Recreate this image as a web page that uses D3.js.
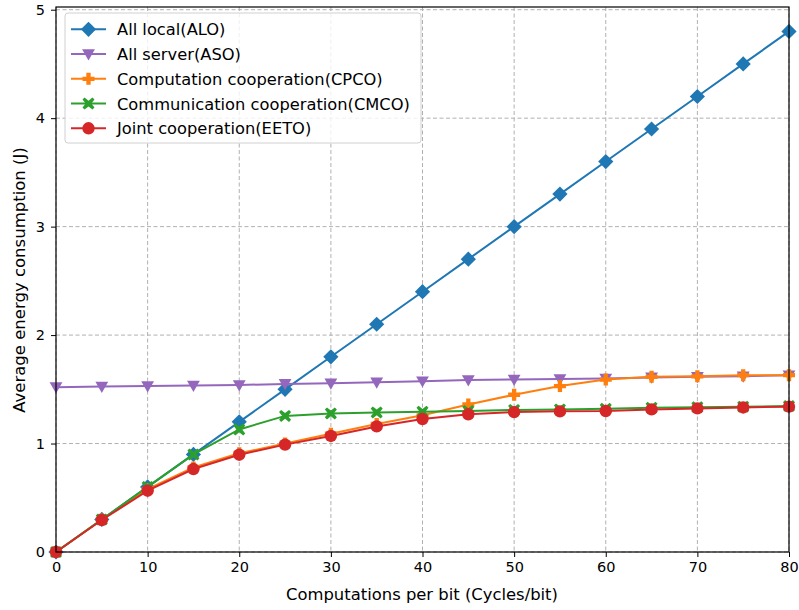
<!DOCTYPE html>
<html><head><meta charset="utf-8">
<script src="https://cdn.jsdelivr.net/npm/d3@7/dist/d3.min.js"></script>
<style>body{margin:0;background:#fff}svg{display:block}text{font-family:"DejaVu Sans",sans-serif}</style>
</head><body>
<svg id="c" width="799" height="610"></svg>
<script>
const xValues = [0,5,10,15,20,25,30,35,40,45,50,55,60,65,70,75,80];
const aloValues  = [0,0.3,0.6,0.9,1.2,1.5,1.8,2.1,2.4,2.7,3.0,3.3,3.6,3.9,4.2,4.5,4.8];
const asoValues  = [1.52,1.525,1.53,1.535,1.54,1.55,1.555,1.565,1.575,1.585,1.59,1.595,1.60,1.61,1.615,1.62,1.63];
const cpcoValues = [0,0.3,0.58,0.78,0.91,1.0,1.09,1.18,1.26,1.36,1.45,1.53,1.59,1.615,1.62,1.63,1.63];
const cmcoValues = [0,0.3,0.6,0.9,1.13,1.255,1.278,1.287,1.293,1.30,1.31,1.315,1.32,1.33,1.335,1.34,1.345];
const eetoValues = [0,0.295,0.565,0.765,0.897,0.99,1.07,1.158,1.226,1.27,1.29,1.297,1.30,1.315,1.324,1.333,1.34];
const xTicks = [0,10,20,30,40,50,60,70,80];
const yTicks = [0,1,2,3,4,5];
const seriesNames = ["All local(ALO)","All server(ASO)","Computation cooperation(CPCO)","Communication cooperation(CMCO)","Joint cooperation(EETO)"];
const seriesColors = ["#1f77b4","#9467bd","#ff7f0e","#2ca02c","#d62728"];
const seriesMarkers = ["diamond","triDown","plus","cross","circle"];
const seriesData = [aloValues, asoValues, cpcoValues, cmcoValues, eetoValues];

const svg = d3.select("#c");
const L=56, R=789, T=7, B=552;
const x = d3.scaleLinear().domain([0,80]).range([L,R]);
const y = d3.scaleLinear().domain([0,5.025]).range([B,T]);

const g = svg.append("g");
g.selectAll(".gx").data(xTicks).enter().append("line")
  .attr("x1",d=>x(d)).attr("x2",d=>x(d)).attr("y1",T).attr("y2",B)
  .attr("stroke","#b0b0b0").attr("stroke-width",1).attr("stroke-dasharray","4,2.5");
g.selectAll(".gy").data(yTicks).enter().append("line")
  .attr("x1",L).attr("x2",R).attr("y1",d=>y(d)).attr("y2",d=>y(d))
  .attr("stroke","#b0b0b0").attr("stroke-width",1).attr("stroke-dasharray","4,2.5");

const xAxis = d3.axisBottom(x).tickValues(xTicks).tickSize(5).tickPadding(5).tickFormat(d3.format("d"));
const yAxis = d3.axisLeft(y).tickValues(yTicks).tickSize(5).tickPadding(6).tickFormat(d3.format("d"));
const ax = svg.append("g").attr("transform",`translate(0,${B})`).call(xAxis);
const ay = svg.append("g").attr("transform",`translate(${L},0)`).call(yAxis);
[ax,ay].forEach(a=>{
  a.select(".domain").remove();
  a.selectAll("text").attr("font-size",14.5).attr("fill","#000").style("font-family","DejaVu Sans");
  a.selectAll("line").attr("stroke","#000");
});

function markerPath(type, s){
  const p = d3.path();
  if(type==="diamond"){ const r=s; p.moveTo(0,-r);p.lineTo(r,0);p.lineTo(0,r);p.lineTo(-r,0);p.closePath(); }
  else if(type==="triDown"){ const r=s; p.moveTo(-r,-r*0.75);p.lineTo(r,-r*0.75);p.lineTo(0,r);p.closePath(); }
  else if(type==="plus"){ const a=s,b=s*0.36; p.moveTo(-b,-a);p.lineTo(b,-a);p.lineTo(b,-b);p.lineTo(a,-b);p.lineTo(a,b);p.lineTo(b,b);p.lineTo(b,a);p.lineTo(-b,a);p.lineTo(-b,b);p.lineTo(-a,b);p.lineTo(-a,-b);p.lineTo(-b,-b);p.closePath(); }
  else if(type==="cross"){
    const a=s, b=s*0.34;
    const c=[[0,-b*1.4],[a-b,-a],[a,-a+b],[b*1.4,0],[a,a-b],[a-b,a],[0,b*1.4],[-a+b,a],[-a,a-b],[-b*1.4,0],[-a,-a+b],[-a+b,-a]];
    p.moveTo(c[0][0],c[0][1]); c.slice(1).forEach(q=>p.lineTo(q[0],q[1])); p.closePath();
  }
  else { p.arc(0,0,s,0,Math.PI*2); }
  return p.toString();
}
const markerSizes = [7.6,6.4,6,6,6.2];

const plot = svg.append("g");
const line = d3.line().x((d,i)=>x(xValues[i])).y(d=>y(d));
seriesData.forEach((vals,k)=>{
  plot.append("path").datum(vals).attr("d",line).attr("fill","none")
    .attr("stroke",seriesColors[k]).attr("stroke-width",2);
  plot.selectAll(".m"+k).data(vals).enter().append("path")
    .attr("transform",(d,i)=>`translate(${x(xValues[i])},${y(d)})`)
    .attr("d",markerPath(seriesMarkers[k],markerSizes[k]))
    .attr("fill",seriesColors[k]);
});

svg.append("rect").attr("x",L).attr("y",T).attr("width",R-L).attr("height",B-T)
  .attr("fill","none").attr("stroke","#000").attr("stroke-width",1.2);

svg.append("text").attr("x",422).attr("y",599.5).attr("text-anchor","middle")
  .attr("font-size",16.4).text("Computations per bit (Cycles/bit)");
svg.append("text").attr("transform",`translate(24.5,280) rotate(-90)`).attr("text-anchor","middle")
  .attr("font-size",16.5).text("Average energy consumption (J)");

const lg = svg.append("g");
lg.append("rect").attr("x",65).attr("y",13).attr("width",356).attr("height",130).attr("rx",3)
  .attr("fill","#fff").attr("fill-opacity",0.8).attr("stroke","#d0d0d0").attr("stroke-width",1);
seriesNames.forEach((n,k)=>{
  const yy = 29.3 + k*24.75;
  lg.append("line").attr("x1",71).attr("x2",106).attr("y1",yy).attr("y2",yy)
    .attr("stroke",seriesColors[k]).attr("stroke-width",2);
  lg.append("path").attr("transform",`translate(88.5,${yy})`).attr("d",markerPath(seriesMarkers[k],markerSizes[k])).attr("fill",seriesColors[k]);
  lg.append("text").attr("x",117).attr("y",yy+6).attr("font-size",16.3).text(n);
});
</script>
</body></html>
